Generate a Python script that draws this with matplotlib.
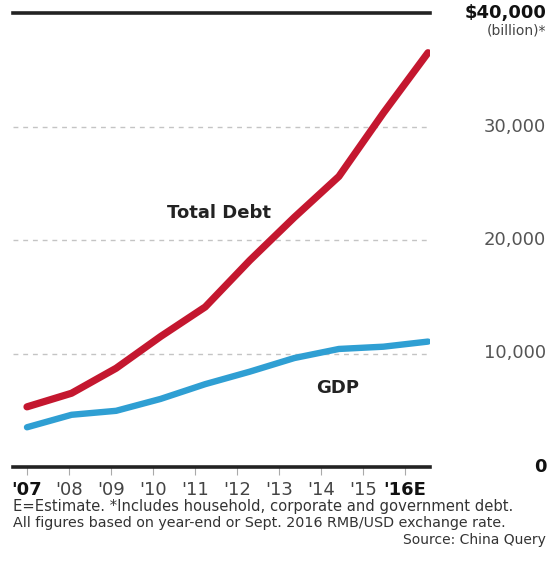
import numpy as np
import matplotlib.pyplot as plt

years = ["'07", "'08", "'09", "'10", "'11", "'12", "'13", "'14", "'15", "'16E"]
total_debt = [5300, 6500, 8700, 11500, 14100, 18200, 22000, 25600, 31200, 36500]
gdp = [3500, 4600, 4950, 6000, 7300, 8400, 9600, 10400, 10600, 11050]
y_ticks = [0, 10000, 20000, 30000, 40000]
y_labels = ['0', '10,000', '20,000', '30,000', '$40,000']

red = '#c4172f'
blue = '#2f9fd3'

fig = plt.figure(figsize=(5.49, 5.68), dpi=100)
ax = fig.add_axes([13/549, 101/568, 417/549, 454/568])

x = np.arange(len(years))
ax.plot(x, total_debt, color=red, lw=5.2, solid_capstyle='round', solid_joinstyle='round', zorder=3)
ax.plot(x, gdp, color=blue, lw=4.6, solid_capstyle='round', solid_joinstyle='round', zorder=3)

ax.set_xlim(-0.314, 9.045)
ax.set_ylim(0, 40000)

for v in y_ticks[1:-1]:
    ax.axhline(v, color='#c4c4c4', lw=1.0, ls=(0, (3.5, 3.5)), zorder=1)

for s in ['left', 'right']:
    ax.spines[s].set_visible(False)
for s in ['top', 'bottom']:
    ax.spines[s].set_linewidth(2.6)
    ax.spines[s].set_color('#222222')

tick_pos = x * 0.943
ax.set_xticks(tick_pos)
ax.set_xticklabels(years, fontsize=13, color='#444444')
for i, lab in enumerate(ax.get_xticklabels()):
    if i in (0, len(years) - 1):
        lab.set_fontweight('bold')
        lab.set_color('#111111')
ax.tick_params(axis='x', length=6, width=0.8, color='#aaaaaa', pad=4)
ax.set_yticks([])

# right-side value labels
for v, lab in zip(y_ticks, y_labels):
    bold = v in (0, 40000)
    ax.text(1.279, v, lab, transform=ax.get_yaxis_transform(), ha='right', va='center',
            fontsize=13, fontweight='bold' if bold else 'normal',
            color='#111111' if bold else '#555555')
ax.text(1.279, 38500, '(billion)*', transform=ax.get_yaxis_transform(), ha='right',
        va='center', fontsize=10, color='#444444')

ax.text(4.31, 22400, 'Total Debt', ha='center', va='center', fontsize=13,
        fontweight='bold', color='#222222')
ax.text(6.98, 6970, 'GDP', ha='center', va='center', fontsize=13,
        fontweight='bold', color='#222222')

fig.text(13/549, 1 - 507/568, 'E=Estimate. *Includes household, corporate and government debt.',
         ha='left', va='center', fontsize=10.6, color='#333333')
fig.text(13/549, 1 - 523/568, 'All figures based on year-end or Sept. 2016 RMB/USD exchange rate.',
         ha='left', va='center', fontsize=10.3, color='#333333')
fig.text(546/549, 1 - 540/568, 'Source: China Query', ha='right', va='center',
         fontsize=10, color='#333333')

fig.savefig('out.png', dpi=100)
